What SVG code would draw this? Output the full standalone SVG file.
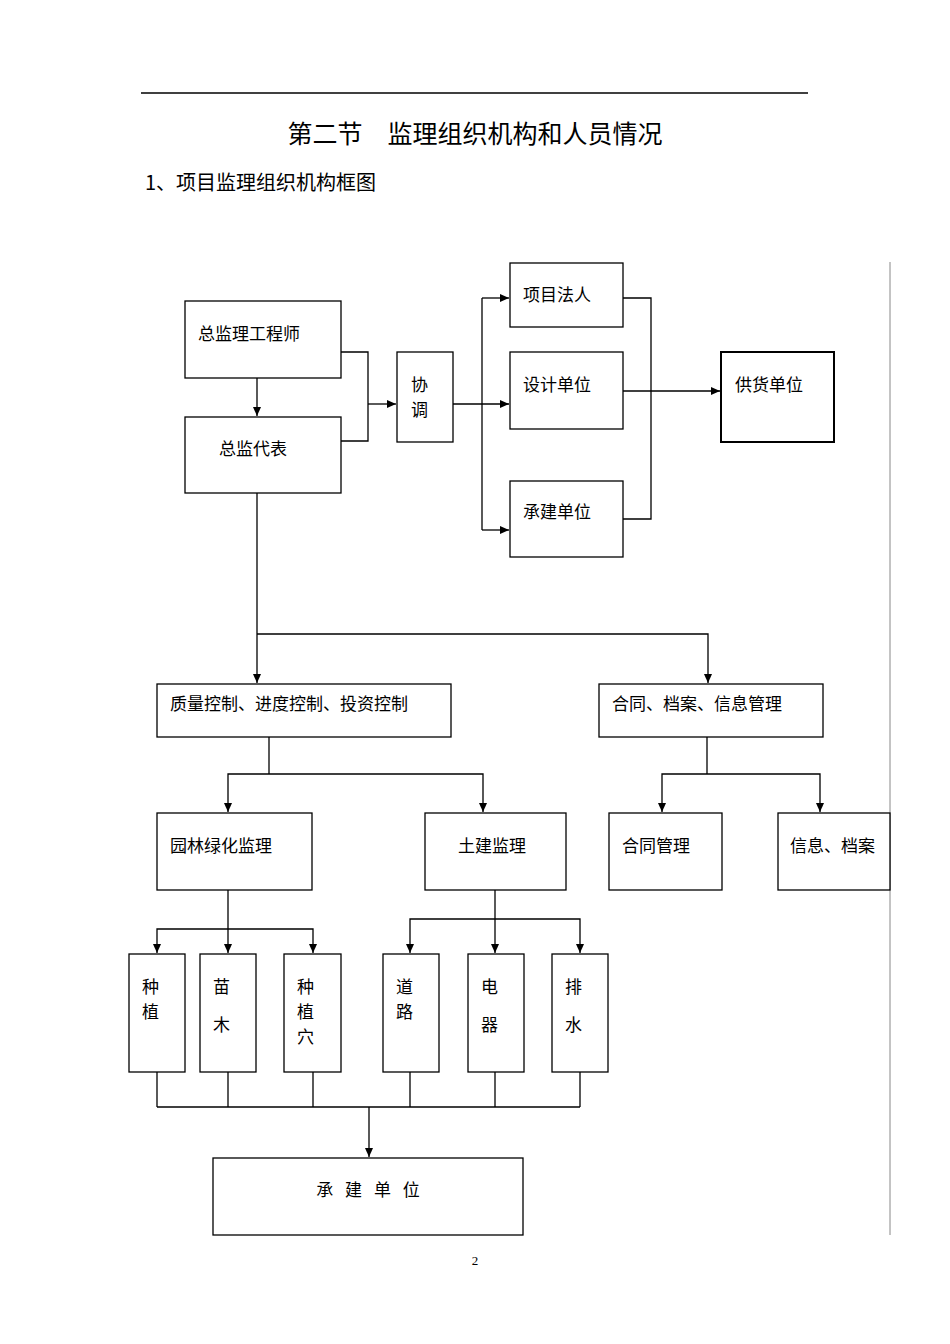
<svg xmlns="http://www.w3.org/2000/svg" width="950" height="1344" viewBox="0 0 950 1344">
<style>
rect{fill:#fff;stroke:#000;stroke-width:1.3}
.t{font-family:"Noto Sans CJK SC","Noto Sans",sans-serif;font-size:17px;fill:#000}
.c line,.c polyline{stroke:#000;stroke-width:1.3;fill:none}
</style>
<defs><marker id="a" markerWidth="10" markerHeight="10" refX="9" refY="5" orient="auto-start-reverse" markerUnits="userSpaceOnUse"><path d="M0,1 L9,5 L0,9z" fill="#000"/></marker></defs>
<rect width="950" height="1344" style="stroke:none"/>
<line x1="141" y1="93" x2="808" y2="93" stroke="#000" stroke-width="1.3"/>
<text x="475" y="143" text-anchor="middle" class="t" style="font-size:25px">第二节　监理组织机构和人员情况</text>
<text x="145" y="190" class="t" style="font-size:20px">1、项目监理组织机构框图</text>
<line x1="890" y1="262" x2="890" y2="1235" stroke="#888" stroke-width="1"/>
<g class="c">
<line x1="257" y1="378" x2="257" y2="416" marker-end="url(#a)"/>
<polyline points="341,352 368,352 368,441 341,441"/>
<line x1="368" y1="404" x2="396" y2="404" marker-end="url(#a)"/>
<line x1="453" y1="404" x2="509" y2="404" marker-end="url(#a)"/>
<line x1="482" y1="298" x2="482" y2="530"/>
<line x1="482" y1="298" x2="509" y2="298" marker-end="url(#a)"/>
<line x1="482" y1="530" x2="509" y2="530" marker-end="url(#a)"/>
<polyline points="623,298 651,298 651,519 623,519"/>
<line x1="623" y1="391" x2="720" y2="391" marker-end="url(#a)"/>
<line x1="257" y1="493" x2="257" y2="683" marker-end="url(#a)"/>
<polyline points="257,634 708,634 708,683" marker-end="url(#a)"/>
<line x1="269" y1="737" x2="269" y2="774"/>
<polyline points="228,812 228,774 483,774 483,812" marker-end="url(#a)" marker-start="url(#a)"/>
<line x1="707" y1="737" x2="707" y2="774" stroke="#555"/>
<polyline points="662,812 662,774 820,774 820,812" marker-end="url(#a)" marker-start="url(#a)"/>
<line x1="228" y1="890" x2="228" y2="953" marker-end="url(#a)"/>
<polyline points="157,953 157,929 313,929 313,953" marker-end="url(#a)" marker-start="url(#a)"/>
<line x1="495" y1="890" x2="495" y2="953" marker-end="url(#a)"/>
<polyline points="410,953 410,919 580,919 580,953" marker-end="url(#a)" marker-start="url(#a)"/>
<line x1="157" y1="1072" x2="157" y2="1107" stroke-width="2.5"/>
<line x1="228" y1="1072" x2="228" y2="1107" stroke-width="0.8"/>
<line x1="313" y1="1072" x2="313" y2="1107" stroke-width="0.8"/>
<line x1="410" y1="1072" x2="410" y2="1107" stroke-width="0.8"/>
<line x1="495" y1="1072" x2="495" y2="1107" stroke-width="0.8"/>
<line x1="580" y1="1072" x2="580" y2="1107" stroke-width="0.8"/>
<line x1="157" y1="1107" x2="580" y2="1107"/>
<line x1="369" y1="1107" x2="369" y2="1157" marker-end="url(#a)"/>
</g>
<g id="n1"><rect x="185" y="301" width="156" height="77"/><text x="198" y="340" class="t">总监理工程师</text></g>
<g id="n2"><rect x="185" y="417" width="156" height="76"/><text x="219" y="455" class="t">总监代表</text></g>
<g id="n3"><rect x="397" y="352" width="56" height="90"/><text x="411" y="391" class="t">协</text><text x="411" y="416" class="t">调</text></g>
<g id="n4"><rect x="510" y="263" width="113" height="64"/><text x="523" y="301" class="t">项目法人</text></g>
<g id="n5"><rect x="510" y="352" width="113" height="77"/><text x="523" y="391" class="t">设计单位</text></g>
<g id="n6"><rect x="510" y="481" width="113" height="76"/><text x="523" y="518" class="t">承建单位</text></g>
<g id="n7"><rect x="721" y="352" width="113" height="90" style="stroke-width:2"/><text x="735" y="391" class="t">供货单位</text></g>
<g id="n8"><rect x="157" y="684" width="294" height="53"/><text x="170" y="710" class="t">质量控制、进度控制、投资控制</text></g>
<g id="n9"><rect x="599" y="684" width="224" height="53"/><text x="612" y="710" class="t">合同、档案、信息管理</text></g>
<g id="n10"><rect x="157" y="813" width="155" height="77"/><text x="170" y="852" class="t">园林绿化监理</text></g>
<g id="n11"><rect x="425" y="813" width="141" height="77"/><text x="458" y="852" class="t">土建监理</text></g>
<g id="n12"><rect x="609" y="813" width="113" height="77"/><text x="622" y="852" class="t">合同管理</text></g>
<g id="n13"><rect x="778" y="813" width="112" height="77"/><text x="790" y="852" class="t">信息、档案</text></g>
<g id="n14"><rect x="129" y="954" width="56" height="118"/><text x="142" y="993" class="t">种</text><text x="142" y="1018" class="t">植</text></g>
<g id="n15"><rect x="200" y="954" width="56" height="118"/><text x="213" y="993" class="t">苗</text><text x="213" y="1031" class="t">木</text></g>
<g id="n16"><rect x="284" y="954" width="57" height="118"/><text x="297" y="993" class="t">种</text><text x="297" y="1018" class="t">植</text><text x="297" y="1043" class="t">穴</text></g>
<g id="n17"><rect x="383" y="954" width="56" height="118"/><text x="396" y="993" class="t">道</text><text x="396" y="1018" class="t">路</text></g>
<g id="n18"><rect x="468" y="954" width="56" height="118"/><text x="481" y="993" class="t">电</text><text x="481" y="1031" class="t">器</text></g>
<g id="n19"><rect x="552" y="954" width="56" height="118"/><text x="565" y="993" class="t">排</text><text x="565" y="1031" class="t">水</text></g>
<g id="n20"><rect x="213" y="1158" width="310" height="77"/><text x="370" y="1196" text-anchor="middle" class="t" style="letter-spacing:4px">承 建 单 位</text></g>
<text x="475" y="1265" text-anchor="middle" style="font-family:'Liberation Serif',serif;font-size:13px">2</text>
</svg>
